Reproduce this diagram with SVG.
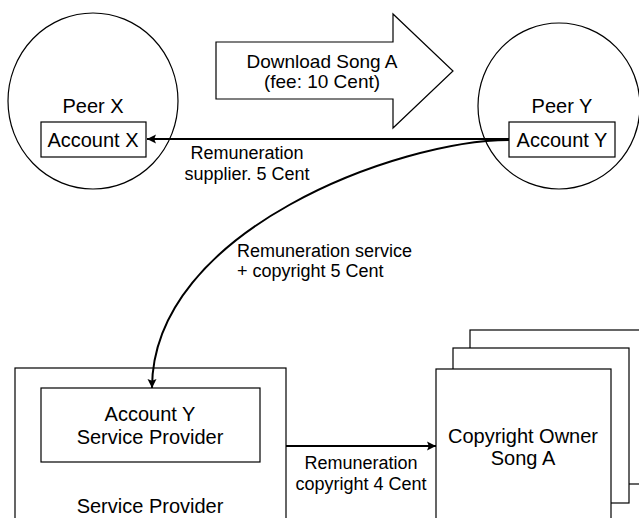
<svg xmlns="http://www.w3.org/2000/svg" width="639" height="518" viewBox="0 0 639 518">
<defs>
<style>
.shape{fill:#fff;stroke:#000;stroke-width:1.2}
.line{fill:none;stroke:#000;stroke-width:2}
text{font-family:"Liberation Sans",Arial,sans-serif;fill:#000;text-anchor:middle}
.big{font-size:20px}
.mid{font-size:19px}
.lbl{font-size:18px}
</style>
<marker id="ah" viewBox="0 0 10 10" refX="10" refY="5" markerWidth="9" markerHeight="10" markerUnits="userSpaceOnUse" orient="auto">
<path d="M0,0 L10,5 L0,10 L2,5 z" fill="#000"/>
</marker>
</defs>
<rect width="639" height="518" fill="#fff"/>

<g id="peerX">
<ellipse class="shape" cx="93" cy="101" rx="85" ry="88"/>
<text class="big" x="93" y="113">Peer X</text>
</g>
<g id="accountX">
<rect class="shape" x="41" y="122" width="105" height="35"/>
<text class="big" x="93" y="147">Account X</text>
</g>

<g id="peerY">
<ellipse class="shape" cx="559" cy="106" rx="81" ry="83"/>
<text class="big" x="562" y="113">Peer Y</text>
</g>
<g id="accountY">
<rect class="shape" x="509" y="122" width="106" height="35"/>
<text class="big" x="562" y="147">Account Y</text>
</g>

<g id="download">
<path class="shape" d="M216,42 L393,42 L393,14 L453,71 L393,128 L393,99 L216,99 Z"/>
<text class="mid" x="322" y="68">Download Song A</text>
<text class="mid" x="322" y="88">(fee: 10 Cent)</text>
</g>

<g id="serviceProvider">
<rect class="shape" x="15" y="368" width="271" height="160"/>
<text class="big" x="150" y="513">Service Provider</text>
</g>
<g id="accountYSP">
<rect class="shape" x="41" y="388" width="219" height="74"/>
<text class="big" x="150" y="421">Account Y</text>
<text class="big" x="150" y="444">Service Provider</text>
</g>

<g id="copyrightOwner">
<rect class="shape" x="470" y="330" width="180" height="154"/>
<rect class="shape" x="453" y="348" width="176" height="155"/>
<rect class="shape" x="436" y="369" width="175" height="160"/>
<text class="big" x="523" y="443">Copyright Owner</text>
<text class="big" x="523" y="465">Song A</text>
</g>

<g id="connectors">
<path class="line" d="M509,139 L147,139" marker-end="url(#ah)"/>
<path class="line" d="M509,140 C400,140 152,230 152,388" marker-end="url(#ah)"/>
<path class="line" d="M286,446 L436,446" marker-end="url(#ah)"/>
<text class="lbl" x="247" y="159">Remuneration</text>
<text class="lbl" x="247" y="180">supplier. 5 Cent</text>
<text class="lbl" x="237" y="257" style="text-anchor:start">Remuneration service</text>
<text class="lbl" x="237" y="277" style="text-anchor:start">+ copyright 5 Cent</text>
<text class="lbl" x="361" y="469">Remuneration</text>
<text class="lbl" x="361" y="490">copyright 4 Cent</text>
</g>
</svg>
